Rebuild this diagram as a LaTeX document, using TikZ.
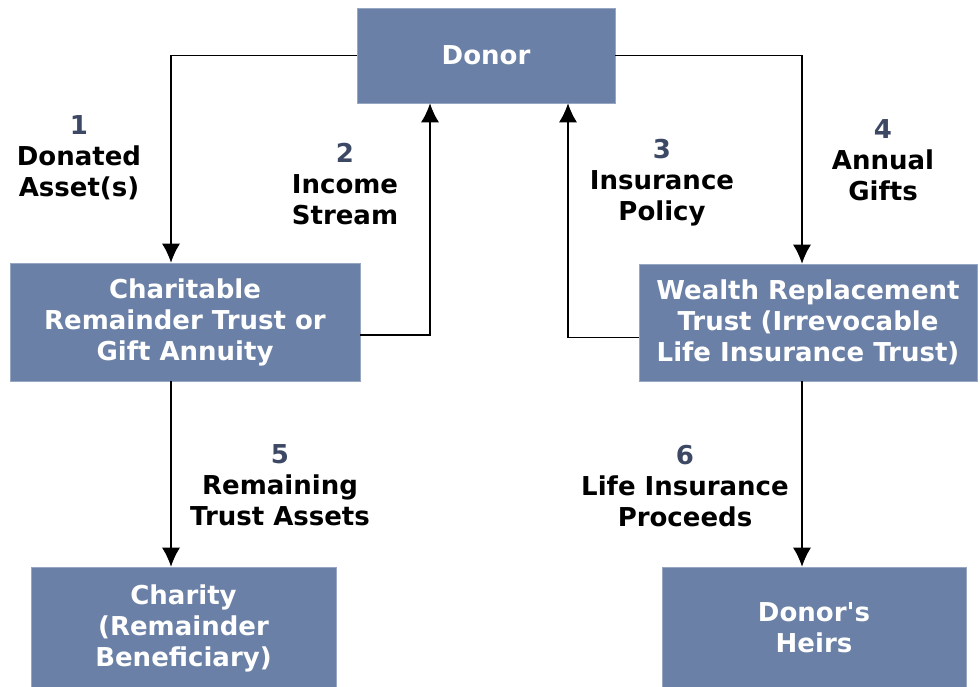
\documentclass[tikz,border=0pt]{standalone}
\usepackage{fontspec}
\setmainfont{DejaVu Sans}
\usepackage{tikz}
\usetikzlibrary{arrows.meta}
\definecolor{boxblue}{HTML}{6A80A6}
\definecolor{stepnum}{HTML}{3C4864}

\begin{document}
\begin{tikzpicture}[x=1pt,y=-1pt]
            \tikzset{
                entity/.style={rectangle, fill=boxblue, draw=boxblue!70!white, line width=0.6pt,
                    text=white, align=center, inner sep=0pt,
                    font=\bfseries\fontsize{26}{31}\selectfont},
                flowlabel/.style={align=center, inner sep=0pt,
                    font=\bfseries\fontsize{26}{31}\selectfont},
                edge/.style={-{Latex[length=19pt,width=18pt]}, line width=1.4pt}
            }
            \useasboundingbox (0,0) rectangle (980,686);
            % vertices
            \node[entity, minimum width=258pt, minimum height=95pt] (donor) at (486,55.5) {Donor};
            \node[entity, minimum width=350pt, minimum height=118pt] (crt) at (185,322) {Charitable\\Remainder Trust or\\Gift Annuity};
            \node[entity, minimum width=338pt, minimum height=117pt] (wrt) at (808,322.5) {Wealth Replacement\\Trust (Irrevocable\\Life Insurance Trust)};
            \node[entity, minimum width=305pt, minimum height=122pt] (charity) at (183.5,628) {Charity\\(Remainder\\Beneficiary)};
            \node[entity, minimum width=304pt, minimum height=122pt] (heirs) at (814,628) {Donor\XeTeXglyph\XeTeXcharglyph"27 s\\Heirs};

            % labels
            \node[flowlabel] (l1) at (79,158) {\textcolor{stepnum}{1}\\Donated\\Asset(s)};
            \node[flowlabel] (l2) at (345,184) {\textcolor{stepnum}{2}\\Income\\Stream};
            \node[flowlabel] (l3) at (662,183) {\textcolor{stepnum}{3}\\Insurance\\Policy};
            \node[flowlabel] (l4) at (883,160) {\textcolor{stepnum}{4}\\Annual\\Gifts};
            \node[flowlabel] (l5) at (280,485) {\textcolor{stepnum}{5}\\Remaining\\Trust Assets};
            \node[flowlabel] (l6) at (685,486) {\textcolor{stepnum}{6}\\Life Insurance\\Proceeds};

            %edges
            \draw[edge] (donor.west) -| ([xshift=-14pt]crt.north);
            \draw[edge] ([yshift=-13pt]crt.east) -| ([xshift=-56pt]donor.south);
            \draw[edge] ([yshift=-15pt]wrt.west) -| ([xshift=82pt]donor.south);
            \draw[edge] (donor.east) -| ([xshift=-6pt]wrt.north);
            \draw[edge] ([xshift=-14pt]crt.south) -- ([xshift=-12.5pt]charity.north);
            \draw[edge] ([xshift=-6pt]wrt.south) -- ([xshift=-12pt]heirs.north);
\end{tikzpicture}
\end{document}
